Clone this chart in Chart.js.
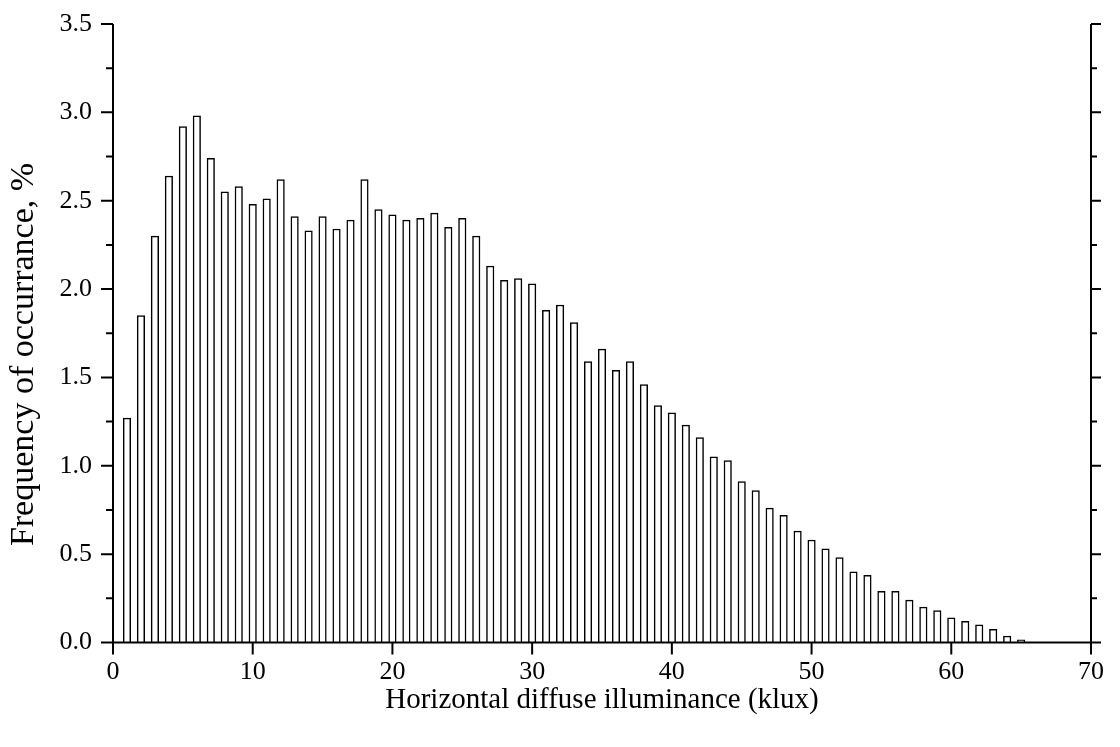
<!DOCTYPE html>
<html>
<head>
<meta charset="utf-8">
<script src="https://cdn.jsdelivr.net/npm/chart.js@4.4.1/dist/chart.umd.min.js"></script>
<style>
  html, body { margin: 0; padding: 0; background: #ffffff; }
  canvas { display: block; }
</style>
</head>
<body>
<canvas id="c" width="1120" height="747"></canvas>
<script>
// Horizontal diffuse illuminance bins (klux)
const klux = [1,2,3,4,5,6,7,8,9,10,11,12,13,14,15,16,17,18,19,20,21,22,23,24,25,26,27,28,29,30,31,32,33,34,35,36,37,38,39,40,41,42,43,44,45,46,47,48,49,50,51,52,53,54,55,56,57,58,59,60,61,62,63,64,65];
// Frequency of occurrance (%)
const frequency = [1.27,1.85,2.30,2.64,2.92,2.98,2.74,2.55,2.58,2.48,
                   2.51,2.62,2.41,2.33,2.41,2.34,2.39,2.62,2.45,2.42,
                   2.39,2.40,2.43,2.35,2.40,2.30,2.13,2.05,2.06,2.03,
                   1.88,1.91,1.81,1.59,1.66,1.54,1.59,1.46,1.34,1.30,
                   1.23,1.16,1.05,1.03,0.91,0.86,0.76,0.72,0.63,0.58,
                   0.53,0.48,0.40,0.38,0.29,0.29,0.24,0.20,0.18,0.14,
                   0.12,0.10,0.075,0.036,0.015];
const xTicks = [0,10,20,30,40,50,60,70];
const yMajorTicks = [0,0.5,1.0,1.5,2.0,2.5,3.0,3.5];
const yMinorTicks = [0.25,0.75,1.25,1.75,2.25,2.75,3.25];
const xTitle = 'Horizontal diffuse illuminance (klux)';
const yTitle = 'Frequency of occurrance, %';

const FONT = '"Liberation Serif", "Times New Roman", serif';

const axesPlugin = {
  id: 'originAxes',
  afterDraw(chart) {
    const {ctx, chartArea: a, scales: {x, y}} = chart;
    ctx.save();
    ctx.strokeStyle = '#000';
    ctx.lineWidth = 2;
    ctx.lineCap = 'butt';
    ctx.beginPath();
    ctx.moveTo(a.left, a.top); ctx.lineTo(a.left, a.bottom);
    ctx.moveTo(a.right, a.top); ctx.lineTo(a.right, a.bottom);
    ctx.moveTo(a.left, a.bottom); ctx.lineTo(a.right, a.bottom);
    xTicks.forEach(v => {
      const px = x.getPixelForValue(v);
      ctx.moveTo(px, a.bottom); ctx.lineTo(px, a.bottom + 12);
    });
    yMajorTicks.forEach(v => {
      const py = y.getPixelForValue(v);
      ctx.moveTo(a.left - 12, py); ctx.lineTo(a.left, py);
      ctx.moveTo(a.right, py); ctx.lineTo(a.right + 10, py);
    });
    yMinorTicks.forEach(v => {
      const py = y.getPixelForValue(v);
      ctx.moveTo(a.left - 7, py); ctx.lineTo(a.left, py);
      ctx.moveTo(a.right, py); ctx.lineTo(a.right + 6, py);
    });
    ctx.stroke();
    ctx.restore();
  }
};

new Chart(document.getElementById('c'), {
  type: 'bar',
  data: {
    datasets: [{
      data: klux.map((k, i) => ({x: k, y: frequency[i]})),
      backgroundColor: '#ffffff',
      borderColor: '#000000',
      borderWidth: 1.5,
      barThickness: 7.5
    }]
  },
  options: {
    responsive: false,
    animation: false,
    events: [],
    layout: { padding: { left: 0, right: 29, top: 24, bottom: 0 } },
    plugins: { legend: { display: false }, tooltip: { enabled: false } },
    scales: {
      x: {
        type: 'linear',
        min: 0, max: 70,
        offset: false,
        grid: { display: false, drawTicks: false },
        border: { display: false },
        ticks: {
          stepSize: 10,
          autoSkip: false,
          maxRotation: 0,
          padding: 14,
          color: '#000',
          font: { family: FONT, size: 26 }
        },
        title: {
          display: true,
          text: xTitle,
          color: '#000',
          font: { family: FONT, size: 29 },
          padding: { top: 0, bottom: 29 }
        },
        afterFit(scale) { scale.height = 104.5; scale.paddingLeft = 0; scale.paddingRight = 0; }
      },
      y: {
        min: 0, max: 3.5,
        grid: { display: false, drawTicks: false },
        border: { display: false },
        ticks: {
          stepSize: 0.5,
          padding: 21,
          color: '#000',
          font: { family: FONT, size: 26 },
          callback: v => Number(v).toFixed(1)
        },
        title: {
          display: true,
          text: yTitle + '\u00a0\u00a0\u00a0\u00a0\u00a0',
          color: '#000',
          font: { family: FONT, size: 34 },
          padding: { top: 4, bottom: 0 }
        },
        afterFit(scale) { scale.width = 113; scale.paddingTop = 0; scale.paddingBottom = 0; }
      }
    }
  },
  plugins: [axesPlugin]
});
</script>
</body>
</html>
